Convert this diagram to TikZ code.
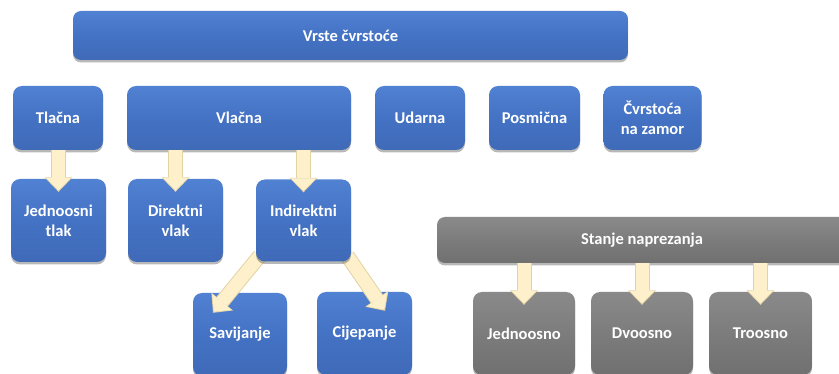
\documentclass[tikz,border=0pt]{standalone}
\usepackage{fontspec}
\setmainfont{Carlito}
\usetikzlibrary{arrows.meta,shadows,calc}
\definecolor{boxblue}{HTML}{4472C4}
\definecolor{boxbluetop}{HTML}{5181D2}
\definecolor{boxbluebot}{HTML}{3F6AB8}
\definecolor{boxgray}{HTML}{7C7C7C}
\definecolor{boxgraytop}{HTML}{8A8A8A}
\definecolor{boxgraybot}{HTML}{707070}
\definecolor{arrowfill}{HTML}{FDF0CA}
\definecolor{arrowline}{HTML}{E2D3A6}
\pgfdeclarelayer{diag}
\pgfdeclarelayer{front}
\pgfdeclarelayer{topl}
\pgfsetlayers{main,diag,front,topl}
\newcommand\fatarr[2]{%
  \draw[line width=15pt, arrowline, -{Triangle[width=28pt,length=14.5pt,line width=0pt]}] #1 -- #2;
  \draw[line width=13pt, arrowfill, shorten >=1.4pt, -{Triangle[width=25pt,length=12.6pt,line width=0pt]}] #1 -- #2;}
\begin{document}
\begin{tikzpicture}[x=1pt,y=-1pt,
  box/.style={rounded corners=9pt, inner sep=0pt, align=center, text=white,
    font=\bfseries\fontsize{16.5}{20}\selectfont,
    drop shadow={shadow xshift=0pt, shadow yshift=-2.5pt, opacity=0.28, fill=black}},
  bluebox/.style={box, top color=boxbluetop, bottom color=boxbluebot, middle color=boxblue},
  graybox/.style={box, top color=boxgraytop, bottom color=boxgraybot, middle color=boxgray},
]
\useasboundingbox (0,0) rectangle (839,374);

% top level
\node[bluebox, rounded corners=8pt, minimum width=555pt, minimum height=49pt] (vrste) at (350.5,35.5) {Vrste čvrstoće};

% second row
\node[bluebox, minimum width=90pt, minimum height=64pt] (tl) at (58,118) {Tlačna};
\node[bluebox, minimum width=224pt, minimum height=64pt] (vl) at (239,118) {Vlačna};
\node[bluebox, minimum width=90pt, minimum height=64pt] (ud) at (420,118) {Udarna};
\node[bluebox, minimum width=91pt, minimum height=64pt] (po) at (534.5,118) {Posmična};
\node[bluebox, minimum width=98pt, minimum height=64pt] (cz) at (652.5,118) {Čvrstoća\\na zamor};

% third row
\node[bluebox, minimum width=95pt, minimum height=83pt] (jt) at (58.5,220.5) {Jednoosni\\tlak};
\node[bluebox, minimum width=95pt, minimum height=83pt] (dv) at (175.5,220.5) {Direktni\\vlak};
\begin{pgfonlayer}{front}
\node[bluebox, minimum width=95pt, minimum height=82pt] (iv) at (303.5,220.5) {Indirektni\\vlak};
\end{pgfonlayer}

% fourth row
\node[bluebox, minimum width=94pt, minimum height=83pt] (sa) at (240,334.5) {Savijanje};
\node[bluebox, minimum width=95pt, minimum height=83pt] (ci) at (364.5,333.5) {Cijepanje};

% stress state
\node[graybox, rounded corners=8pt, minimum width=410pt, minimum height=46pt] (sn) at (642,240) {Stanje naprezanja};
\node[graybox, minimum width=102pt, minimum height=83pt] (jo) at (524,333.5) {Jednoosno};
\node[graybox, minimum width=102pt, minimum height=83pt] (do) at (642,333.5) {Dvoosno};
\node[graybox, minimum width=103pt, minimum height=83pt] (tr) at (760.5,333.5) {Troosno};

% arrows
\begin{pgfonlayer}{diag}
\fatarr{([xshift=4pt,yshift=6pt]iv.south west)}{([xshift=-27pt,yshift=-20pt]sa.north)}
\fatarr{([xshift=-4pt,yshift=6pt]iv.south east)}{([xshift=20.5pt,yshift=-19pt]ci.north)}
\end{pgfonlayer}
\begin{pgfonlayer}{topl}
\fatarr{(jt.north |- tl.south)}{([yshift=-13pt]jt.north)}
\fatarr{(dv.north |- vl.south)}{([yshift=-13pt]dv.north)}
\fatarr{(iv.north |- vl.south)}{([yshift=-13pt]iv.north)}
\fatarr{(jo.north |- sn.south)}{([yshift=-13pt]jo.north)}
\fatarr{(do.north |- sn.south)}{([yshift=-13pt]do.north)}
\fatarr{(tr.north |- sn.south)}{([yshift=-13pt]tr.north)}
\end{pgfonlayer}
\end{tikzpicture}
\end{document}
